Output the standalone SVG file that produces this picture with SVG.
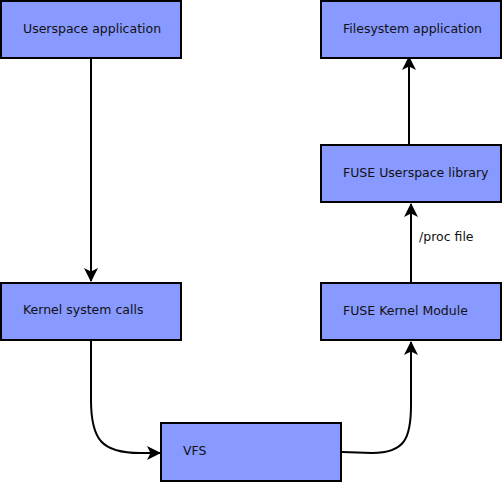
<svg xmlns="http://www.w3.org/2000/svg" width="502" height="482" viewBox="0 0 502 482">
<style>
.box{fill:#8899ff;stroke:#000;stroke-width:2}
.lbl{font-family:"DejaVu Sans",sans-serif;font-size:12.5px;fill:#111}
.con{fill:none;stroke:#000;stroke-width:2}
</style>
<defs>
<marker id="ah" viewBox="0 0 14 14" refX="13" refY="7" markerWidth="14" markerHeight="14" markerUnits="userSpaceOnUse" orient="auto">
<path d="M0,0 L14,7 L0,14 L3.5,7 Z" fill="#000"/>
</marker>
</defs>
<rect width="502" height="482" fill="#fff"/>
<g id="connectors">
<path class="con" d="M91,58 L91,281" marker-end="url(#ah)"/>
<path class="con" d="M91,341 L91,400 C91,440 102,453 140,453 L160,453" marker-end="url(#ah)"/>
<path class="con" d="M342,452 L372,453 C405,453 411,438 411,405 L411,342" marker-end="url(#ah)"/>
<path class="con" d="M411,282 L411,204" marker-end="url(#ah)"/>
<path class="con" d="M409,146 L409,57" marker-end="url(#ah)"/>
</g>
<g id="userspace-app"><rect class="box" x="1" y="1" width="180" height="57"/><text class="lbl" x="23" y="33">Userspace application</text></g>
<g id="filesystem-app"><rect class="box" x="321" y="1" width="180" height="57"/><text class="lbl" x="343" y="33">Filesystem application</text></g>
<g id="fuse-lib"><rect class="box" x="321" y="145" width="180" height="57"/><text class="lbl" x="343" y="177">FUSE Userspace library</text></g>
<g id="fuse-kernel"><rect class="box" x="321" y="283" width="180" height="57"/><text class="lbl" x="343" y="315">FUSE Kernel Module</text></g>
<g id="kernel-syscalls"><rect class="box" x="1" y="283" width="180" height="57"/><text class="lbl" x="23" y="314">Kernel system calls</text></g>
<g id="vfs"><rect class="box" x="161" y="423" width="180" height="58"/><text class="lbl" x="183" y="455">VFS</text></g>
<text class="lbl" x="419" y="241">/proc file</text>
</svg>
